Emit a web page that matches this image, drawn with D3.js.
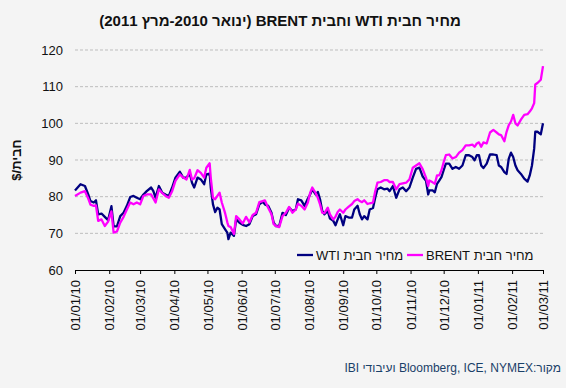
<!DOCTYPE html>
<html>
<head>
<meta charset="utf-8">
<script src="https://cdn.jsdelivr.net/npm/d3@7"></script>
<style>
  body { margin: 0; background: #f4f4f4; }
  svg { display: block; font-family: "Liberation Sans", Arial, sans-serif; }
</style>
</head>
<body>
<svg id="drawing_region"></svg>
<script>
// data
const dates = [
  "2010-01-01","2010-01-06","2010-01-10","2010-01-13","2010-01-15","2010-01-18","2010-01-20","2010-01-22","2010-01-25","2010-01-28","2010-01-31",
  "2010-02-03","2010-02-05","2010-02-08","2010-02-11","2010-02-14","2010-02-17","2010-02-20","2010-02-23","2010-02-26",
  "2010-03-01","2010-03-04","2010-03-07","2010-03-11","2010-03-13","2010-03-15","2010-03-18","2010-03-21","2010-03-24","2010-03-27","2010-03-30",
  "2010-04-02","2010-04-06","2010-04-09","2010-04-12","2010-04-15","2010-04-17","2010-04-19","2010-04-22","2010-04-25","2010-04-28","2010-04-30",
  "2010-05-03","2010-05-04","2010-05-06","2010-05-08","2010-05-10","2010-05-12","2010-05-14","2010-05-17","2010-05-19","2010-05-20","2010-05-22","2010-05-25","2010-05-27","2010-05-30",
  "2010-06-02","2010-06-05","2010-06-08","2010-06-11","2010-06-14","2010-06-17","2010-06-20","2010-06-22","2010-06-25","2010-06-28","2010-06-30",
  "2010-07-02","2010-07-05","2010-07-08","2010-07-11","2010-07-14","2010-07-17","2010-07-20","2010-07-22","2010-07-25","2010-07-28","2010-07-31",
  "2010-08-02","2010-08-04","2010-08-07","2010-08-09","2010-08-11","2010-08-13","2010-08-15","2010-08-18","2010-08-20","2010-08-23","2010-08-25","2010-08-27","2010-08-29",
  "2010-09-01","2010-09-03","2010-09-06","2010-09-09","2010-09-11","2010-09-14","2010-09-16","2010-09-18","2010-09-20","2010-09-23","2010-09-25","2010-09-28","2010-09-30",
  "2010-10-02","2010-10-05","2010-10-08","2010-10-11","2010-10-13","2010-10-16","2010-10-19","2010-10-22","2010-10-25","2010-10-28","2010-10-31",
  "2010-11-03","2010-11-06","2010-11-09","2010-11-12","2010-11-15","2010-11-17","2010-11-18","2010-11-21","2010-11-23","2010-11-25","2010-11-27","2010-11-29",
  "2010-12-01","2010-12-03","2010-12-06","2010-12-09","2010-12-12","2010-12-15","2010-12-18","2010-12-21","2010-12-24","2010-12-27","2010-12-29","2010-12-31",
  "2011-01-02","2011-01-04","2011-01-06","2011-01-09","2011-01-12","2011-01-15","2011-01-18","2011-01-20","2011-01-22","2011-01-25","2011-01-27","2011-01-29","2011-01-31",
  "2011-02-02","2011-02-04","2011-02-06","2011-02-09","2011-02-12","2011-02-15","2011-02-17","2011-02-19","2011-02-21","2011-02-22","2011-02-24","2011-02-27","2011-03-01"
]
const wti = [
  81.7,83.4,82.9,80.6,78.8,78.4,79.0,75.2,75.4,74.5,73.6,
  77.4,71.9,71.9,74.7,75.6,77.5,79.9,80.2,79.7,
  79.3,80.6,81.5,82.5,81.5,79.7,82.9,81.1,80.6,80.2,82.5,
  85.2,86.8,85.2,85.2,86.3,83.8,82.5,85.2,84.7,83.4,86.1,
  86.3,82.5,77.9,75.8,77.0,76.5,72.5,71.1,70.2,68.4,70.2,69.3,73.8,72.9,
  72.3,72.0,72.5,74.7,75.2,77.9,78.6,77.9,77.5,75.6,72.9,
  72.0,72.0,75.6,75.0,77.0,76.1,76.5,79.3,79.0,77.5,79.5,
  80.6,82.0,80.6,81.3,79.3,76.1,75.2,76.1,74.0,73.4,72.2,73.8,75.2,
  72.2,74.7,74.3,74.3,76.5,77.5,75.2,73.8,74.7,73.8,76.5,76.9,79.7,
  82.0,82.5,82.0,82.2,81.5,82.9,79.7,82.0,82.5,81.5,82.5,
  85.2,87.6,87.9,85.5,84.3,80.6,81.7,81.7,81.2,83.5,84.4,85.3,
  87.2,89.0,89.0,87.6,88.1,87.6,88.5,91.3,91.3,90.8,89.9,91.3,
  91.3,88.5,87.8,89.0,91.5,91.5,91.3,88.5,88.1,86.7,86.2,90.4,92.0,
  90.8,88.5,87.2,86.2,84.9,84.1,85.8,88.5,93.1,97.7,97.7,97.0,100.0
]
const brent = [
  80.2,81.1,81.5,79.5,77.8,77.5,77.6,73.4,73.8,72.0,73.2,
  76.0,70.2,70.5,72.9,74.5,76.5,78.4,77.9,78.4,
  77.9,80.2,80.6,80.6,79.5,78.4,82.0,81.0,80.2,79.7,81.5,
  84.3,86.1,85.2,84.7,87.3,84.7,85.0,87.2,86.5,85.2,87.9,
  89.1,85.2,79.7,79.3,80.2,81.1,78.4,75.5,73.0,72.0,71.7,69.8,74.7,73.8,
  72.7,74.5,73.0,75.0,75.6,78.5,78.8,79.0,77.0,75.2,72.5,
  72.0,71.7,74.7,75.6,77.2,75.6,76.5,78.1,77.5,76.5,78.4,
  81.0,82.5,81.0,79.7,77.9,75.6,75.5,77.0,75.2,73.8,74.5,75.8,76.5,
  75.6,76.5,77.3,78.0,78.8,79.3,78.8,78.5,79.0,78.0,78.2,78.4,81.5,
  83.8,84.0,84.5,84.5,84.0,84.0,82.0,83.4,83.6,83.8,84.7,
  87.9,88.5,89.1,87.5,85.2,82.9,84.4,83.9,83.5,85.8,85.8,87.2,
  89.4,91.3,91.5,90.4,90.8,92.0,92.7,94.0,94.0,94.2,93.6,94.5,
  94.8,93.6,94.8,94.5,97.5,98.2,97.5,97.0,96.8,95.1,97.7,99.5,100.5,
  102.3,100.0,99.4,101.0,102.3,102.5,103.2,104.1,105.5,110.6,111.0,111.9,115.6
]
const yTicks = [60, 70, 80, 90, 100, 110, 120]
const xTicks = ["2010-01-01","2010-02-01","2010-03-01","2010-04-01","2010-05-01","2010-06-01","2010-07-01",
  "2010-08-01","2010-09-01","2010-10-01","2010-11-01","2010-12-01","2011-01-01","2011-02-01","2011-03-01"]
const seriesNames = ["מחיר חבית WTI", "מחיר חבית BRENT"]
const seriesColors = ["#000080", "#ff00ff"]

class LineChart{
    constructor(config){
        this.config = {
            parent: config.parent,
            width: config.width || 566,
            height: config.height || 388,
            margin: config.margin || {top: 50, left: 75, right: 23, bottom: 118}
        }
        this.init()
    }

    init(){
        let self = this
        self.svg = d3.select(self.config.parent)
            .attr('width', self.config.width)
            .attr('height', self.config.height)

        self.svg.append('rect')
            .attr('width', self.config.width)
            .attr('height', self.config.height)
            .attr('fill', '#f4f4f4')

        self.chart = self.svg.append('g')
            .attr('transform', `translate(${self.config.margin.left},${self.config.margin.top})`)

        self.inner_width = self.config.width - self.config.margin.left - self.config.margin.right
        self.inner_height = self.config.height - self.config.margin.top - self.config.margin.bottom

        const parse = d3.timeParse('%Y-%m-%d')
        self.parse = parse
        self.xscale = d3.scaleTime().range([0, self.inner_width])
            .domain([parse(xTicks[0]), parse(xTicks[xTicks.length - 1])])
        self.yscale = d3.scaleLinear().range([self.inner_height, 0]).domain([60, 120])
    }

    update(){
        let self = this
        self.series = [wti, brent].map((vals, k) => ({
            name: seriesNames[k],
            color: seriesColors[k],
            values: dates.map((d, i) => ({date: self.parse(d), value: vals[i]}))
        }))
        self.render()
    }

    render(){
        let self = this
        const W = self.inner_width, H = self.inner_height

        // grid
        self.chart.append('g').selectAll('line')
            .data(yTicks.slice(1)).join('line')
            .attr('x1', 0).attr('x2', W)
            .attr('y1', d => self.yscale(d)).attr('y2', d => self.yscale(d))
            .attr('stroke', '#bdbdbd').attr('stroke-dasharray', '3,2')

        // y axis (labels only)
        const yaxis = d3.axisLeft(self.yscale).tickValues(yTicks).tickSize(0).tickPadding(12)
        const yg = self.chart.append('g').call(yaxis)
        yg.select('.domain').remove()
        yg.selectAll('text').attr('font-size', 13).attr('fill', '#111')
            .attr('font-family', '"Liberation Sans", Arial, sans-serif')

        // x axis
        const xaxis = d3.axisBottom(self.xscale)
            .tickValues(xTicks.map(self.parse))
            .tickFormat(d3.timeFormat('%d/%m/%y'))
            .tickSize(4).tickSizeOuter(0)
        const xg = self.chart.append('g')
            .attr('transform', `translate(0,${H})`)
            .call(xaxis)
        xg.select('.domain').attr('stroke', '#000')
        xg.selectAll('.tick line').attr('stroke', '#000')
        xg.selectAll('text')
            .attr('font-size', 13).attr('fill', '#111')
            .attr('font-family', '"Liberation Sans", Arial, sans-serif')
            .attr('text-anchor', 'end')
            .attr('transform', 'translate(0,10) rotate(-90)')
            .attr('x', 0).attr('y', 0).attr('dy', '0.35em')

        // lines
        const line = d3.line().x(d => self.xscale(d.date)).y(d => self.yscale(d.value))
        self.chart.append('g').selectAll('path')
            .data(self.series).join('path')
            .attr('d', d => line(d.values))
            .attr('fill', 'none')
            .attr('stroke', d => d.color)
            .attr('stroke-width', 2.3)
            .attr('stroke-linejoin', 'round')

        // legend
        const legendX = [222, 332]
        const lg = self.chart.append('g').attr('transform', `translate(0,${H - 15})`)
        self.series.forEach((s, k) => {
            lg.append('line')
                .attr('x1', legendX[k]).attr('x2', legendX[k] + 16)
                .attr('stroke', s.color).attr('stroke-width', 2.3)
            const t = lg.append('text')
                .attr('direction', 'rtl')
                .attr('x', legendX[k] + 19).attr('y', 5)
                .attr('font-size', 13).attr('fill', '#111')
                .text(s.name)
            self.alignLeft(t, legendX[k] + 19)
        })

        // title
        self.svg.append('text')
            .attr('direction', 'rtl')
            .attr('x', 280).attr('y', 26)
            .attr('text-anchor', 'middle')
            .attr('font-size', 15).attr('font-weight', 'bold').attr('fill', '#111')
            .text('מחיר חבית WTI וחבית BRENT (ינואר 2010-מרץ 2011)')

        // y label
        self.svg.append('text')
            .attr('direction', 'rtl')
            .attr('transform', 'translate(21,160) rotate(-90)')
            .attr('text-anchor', 'middle')
            .attr('font-size', 13).attr('font-weight', 'bold').attr('fill', '#111')
            .text('חבית/$')

        // source
        const src = self.svg.append('text')
            .attr('direction', 'rtl')
            .attr('x', 357).attr('y', 372)
            .attr('font-size', 12).attr('fill', '#1a4068')
            .text('מקור:Bloomberg, ICE, NYMEX ועיבודי IBI')
        self.alignRight(src, 561)
    }

    alignLeft(t, x){
        const b = t.node().getBBox()
        t.attr('x', +t.attr('x') + (x - b.x))
    }

    alignRight(t, x){
        const b = t.node().getBBox()
        t.attr('x', +t.attr('x') + (x - b.x - b.width))
    }
}

const config = {
    parent: '#drawing_region',
    width: 566,
    height: 388,
    margin: {top: 50, right: 23, bottom: 118, left: 75}
}
const line_chart = new LineChart(config)
line_chart.update()
</script>
</body>
</html>
